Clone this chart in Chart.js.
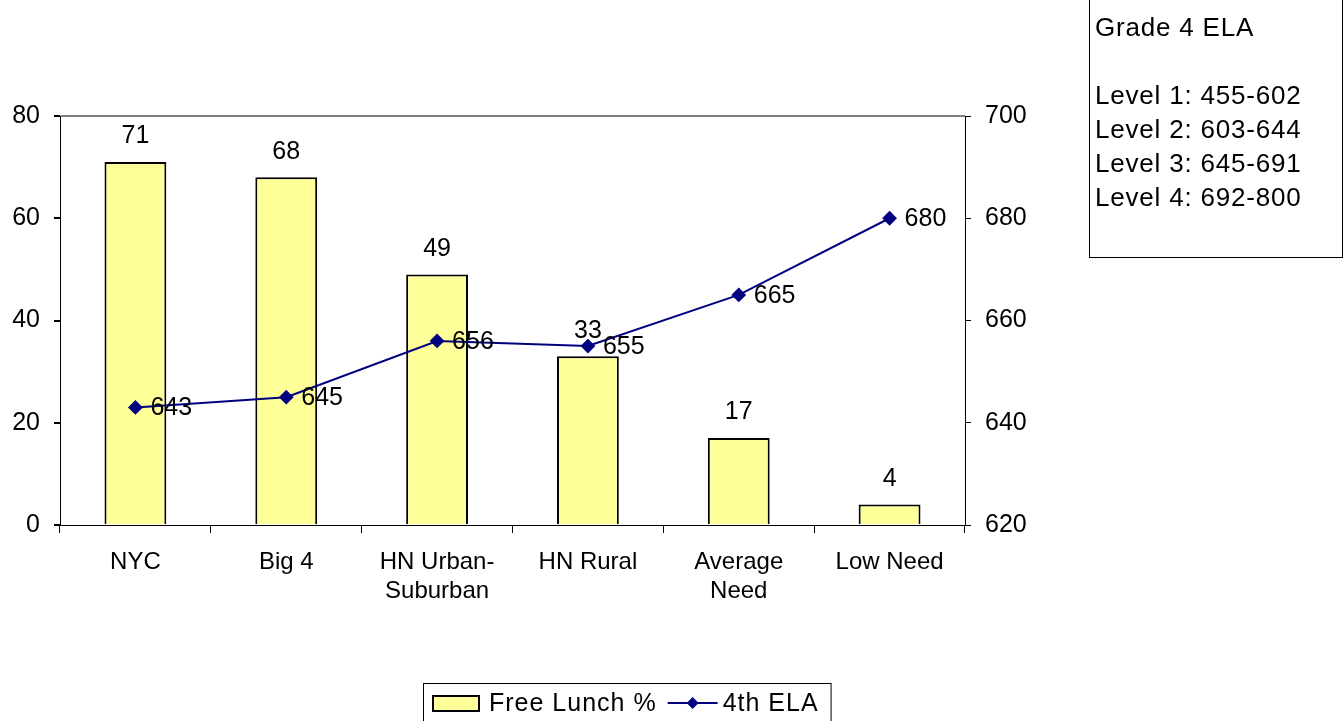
<!DOCTYPE html>
<html>
<head>
<meta charset="utf-8">
<script src="https://cdn.jsdelivr.net/npm/chart.js@4.4.1/dist/chart.umd.min.js"></script>
<style>
  html, body { margin: 0; padding: 0; background: #fff; }
  #wrap { position: relative; width: 1344px; height: 721px; }
  #note {
    position: absolute; left: 1089px; top: -1px; width: 254px; height: 259px;
    border: 1px solid #000; box-sizing: border-box;
    font-family: "Liberation Sans", Arial, sans-serif; font-size: 26px; line-height: 34px;
    letter-spacing: 0.8px;
    padding: 10px 0 0 5px; color: #000;
  }
</style>
</head>
<body>
<div id="wrap">
  <canvas id="comboChart" width="1344" height="721"></canvas>
  <div id="note">Grade 4 ELA<br><br>Level 1: 455-602<br>Level 2: 603-644<br>Level 3: 645-691<br>Level 4: 692-800</div>
</div>
<script>
const categories = [['NYC'], ['Big 4'], ['HN Urban-', 'Suburban'], ['HN Rural'], ['Average', 'Need'], ['Low Need']];
const freeLunch = [71, 68, 49, 33, 17, 4];
const ela4th = [643, 645, 656, 655, 665, 680];
const leftTicks = [0, 20, 40, 60, 80];
const rightTicks = [620, 640, 660, 680, 700];

const FONT = '"Liberation Sans", Arial, sans-serif';

// value labels + legend drawn on the canvas
const labelsPlugin = {
    id: 'labelsPlugin',
    afterDatasetsDraw(chart) {
        const c = chart.ctx;
        c.save();
        c.fillStyle = '#000';
        c.font = '25px ' + FONT;
        const barMeta = chart.getDatasetMeta(1);
        c.textAlign = 'center';
        c.textBaseline = 'bottom';
        barMeta.data.forEach((bar, i) => {
            c.fillText(String(freeLunch[i]), bar.x, bar.y - 13);
        });
        const lineMeta = chart.getDatasetMeta(0);
        c.textAlign = 'left';
        c.textBaseline = 'middle';
        lineMeta.data.forEach((pt, i) => {
            c.fillText(String(ela4th[i]), pt.x + 15, pt.y + 1);
        });
        c.restore();
    },
    afterDraw(chart) {
        const c = chart.ctx;
        c.save();
        c.font = '25px ' + FONT;
        if ('letterSpacing' in c) c.letterSpacing = '1px';
        const left = 423, top = 683;
        const t1 = 'Free Lunch %', t2 = '4th ELA';
        const w1 = c.measureText(t1).width, w2 = c.measureText(t2).width;
        const boxW = 10 + 46 + 10 + w1 + 11 + 50 + 5 + w2 + 12;
        c.strokeStyle = '#000';
        c.lineWidth = 1;
        c.strokeRect(left + 0.5, top + 0.5, boxW, 40);
        let x = left + 10;
        const cy = top + 20;
        c.fillStyle = '#FFFF99';
        c.fillRect(x, cy - 7, 46, 15);
        c.lineWidth = 2;
        c.strokeRect(x, cy - 7, 46, 15);
        x += 46 + 10;
        c.fillStyle = '#000';
        c.textBaseline = 'middle';
        c.fillText(t1, x, cy + 1);
        x += w1 + 11;
        c.strokeStyle = '#000080';
        c.beginPath();
        c.moveTo(x, cy);
        c.lineTo(x + 50, cy);
        c.stroke();
        c.fillStyle = '#000080';
        c.beginPath();
        c.moveTo(x + 25, cy - 6);
        c.lineTo(x + 31, cy);
        c.lineTo(x + 25, cy + 6);
        c.lineTo(x + 19, cy);
        c.closePath();
        c.fill();
        x += 50 + 5;
        c.fillStyle = '#000';
        c.fillText(t2, x, cy + 1);
        c.restore();
    }
};

const ctx = document.getElementById('comboChart').getContext('2d');
const chart = new Chart(ctx, {
    type: 'bar',
    data: {
        labels: categories,
        datasets: [{
            type: 'line',
            label: '4th ELA',
            data: ela4th,
            yAxisID: 'y1',
            borderColor: '#000080',
            backgroundColor: '#000080',
            borderWidth: 2,
            pointStyle: 'rectRot',
            pointRadius: 6,
            pointHoverRadius: 6,
            tension: 0,
            order: 0
        },
        {
            type: 'bar',
            label: 'Free Lunch %',
            data: freeLunch,
            yAxisID: 'y',
            backgroundColor: '#FFFF99',
            borderColor: '#000',
            borderWidth: 2,
            barPercentage: 0.41,
            categoryPercentage: 1,
            order: 1
        }]
    },
    options: {
        responsive: false,
        animation: false,
        layout: { padding: { top: 116, left: 0, right: 0, bottom: 0 } },
        plugins: {
            legend: { display: false },
            tooltip: { enabled: false }
        },
        scales: {
            x: {
                offset: true,
                grid: { offset: true, drawOnChartArea: false, tickLength: 8, color: '#000' },
                border: { color: '#000', width: 1 },
                ticks: { color: '#000', font: { family: FONT, size: 24 }, padding: 15, maxRotation: 0, autoSkip: false },
                afterFit(scale) { scale.height = 196; }
            },
            y: {
                position: 'left',
                min: leftTicks[0],
                max: leftTicks[leftTicks.length - 1],
                afterBuildTicks(scale) { scale.ticks = leftTicks.map(v => ({ value: v })); },
                grid: {
                    color: c => (c.tick && c.tick.value === 80 ? '#808080' : 'rgba(0,0,0,0)'),
                    tickColor: '#000',
                    tickLength: 6,
                    lineWidth: 2
                },
                border: { color: '#000', width: 1 },
                ticks: { color: '#000', font: { family: FONT, size: 25 }, padding: 14 },
                afterFit(scale) { scale.width = 60; }
            },
            y1: {
                position: 'right',
                min: rightTicks[0],
                max: rightTicks[rightTicks.length - 1],
                afterBuildTicks(scale) { scale.ticks = rightTicks.map(v => ({ value: v })); },
                grid: { drawOnChartArea: false, color: '#000', tickLength: 6 },
                border: { color: '#000', width: 1 },
                ticks: { color: '#000', font: { family: FONT, size: 25 }, padding: 14 },
                afterFit(scale) { scale.width = 379; }
            }
        }
    },
    plugins: [labelsPlugin]
});
</script>
</body>
</html>
